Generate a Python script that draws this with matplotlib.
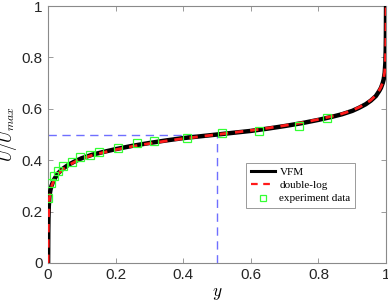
import matplotlib
matplotlib.use("Agg")
import matplotlib.pyplot as plt

# VFM curve
y_vfm = [0, 0.0005, 0.001, 0.002, 0.004, 0.007, 0.01, 0.015, 0.02, 0.03, 0.045, 0.06,
         0.08, 0.1, 0.13, 0.16, 0.2, 0.25, 0.3, 0.35, 0.4, 0.45, 0.5,
         0.55, 0.6, 0.65, 0.7, 0.75, 0.8, 0.84, 0.87, 0.9, 0.92, 0.94, 0.955, 0.97,
         0.98, 0.985, 0.99, 0.993, 0.996, 0.998, 0.999, 0.9995, 1.0]
u_vfm = [0, 0.12, 0.17, 0.22, 0.26, 0.285, 0.30, 0.318, 0.33, 0.35, 0.368, 0.382,
         0.396, 0.408, 0.421, 0.431, 0.443, 0.456, 0.467, 0.477, 0.486, 0.493, 0.5,
         0.507, 0.514, 0.523, 0.533, 0.544, 0.557, 0.569, 0.579, 0.592, 0.604, 0.618,
         0.632, 0.65, 0.67, 0.682, 0.70, 0.715, 0.74, 0.78, 0.83, 0.88, 1.0]

# double-log fit
y_dl = [0, 0.0005, 0.001, 0.002, 0.004, 0.007, 0.01, 0.015, 0.02, 0.03, 0.045, 0.06,
        0.08, 0.1, 0.13, 0.16, 0.2, 0.25, 0.3, 0.35, 0.4, 0.45, 0.5,
        0.55, 0.6, 0.65, 0.7, 0.75, 0.8, 0.84, 0.87, 0.9, 0.92, 0.94, 0.955, 0.97,
        0.98, 0.985, 0.99, 0.993, 0.996, 0.998, 0.999, 0.9995, 1.0]
u_dl = [0, 0.11, 0.16, 0.21, 0.255, 0.28, 0.297, 0.315, 0.327, 0.347, 0.366, 0.38,
        0.394, 0.406, 0.419, 0.429, 0.441, 0.454, 0.465, 0.475, 0.484, 0.492, 0.5,
        0.508, 0.516, 0.525, 0.535, 0.546, 0.559, 0.571, 0.581, 0.594, 0.606, 0.62,
        0.634, 0.653, 0.673, 0.685, 0.703, 0.72, 0.745, 0.79, 0.84, 0.89, 1.0]

# experiment data
y_exp = [0.001, 0.009, 0.018, 0.028, 0.043, 0.070, 0.095, 0.124, 0.152, 0.208,
         0.262, 0.312, 0.410, 0.516, 0.625, 0.741, 0.826]
u_exp = [0.252, 0.310, 0.339, 0.359, 0.379, 0.394, 0.411, 0.422, 0.432, 0.447,
         0.466, 0.475, 0.488, 0.505, 0.514, 0.533, 0.565]

# reference lines
ref_x = 0.5
ref_u = 0.5

ticks = [0, 0.2, 0.4, 0.6, 0.8, 1]
tick_labels = ["0", "0.2", "0.4", "0.6", "0.8", "1"]

plt.rcParams['mathtext.fontset'] = 'cm'
fig = plt.figure(figsize=(3.88, 3.05), dpi=100)
ax = fig.add_axes([0.124, 0.138, 0.871, 0.842])

ax.plot([0, ref_x], [ref_u, ref_u], color='#6f6fff', lw=1.0, dashes=(6, 4), zorder=1)
ax.plot([ref_x, ref_x], [0, ref_u], color='#6f6fff', lw=1.0, dashes=(6, 4), zorder=1)

ax.plot(y_vfm, u_vfm, color='black', lw=3.2, label='VFM', zorder=3)
ax.plot(y_dl, u_dl, color='#ff1a1a', lw=2.0, dashes=(3, 2.5), label='double-log', zorder=4)
ax.plot(y_exp, u_exp, linestyle='none', marker='s', markersize=5.2, mfc='none',
        mec='#33ff33', mew=0.9, label='experiment data', zorder=5)

ax.set_xlim(0, 1)
ax.set_ylim(0, 1)
ax.set_xticks(ticks)
ax.set_xticklabels(tick_labels)
ax.set_yticks(ticks)
ax.set_yticklabels(tick_labels)
ax.tick_params(direction='in', length=3.5, width=0.6, top=True, right=True,
               labelsize=11, colors='#262626', pad=4)
for lab in ax.get_xticklabels() + ax.get_yticklabels():
    lab.set_fontfamily('Liberation Sans')
for s in ax.spines.values():
    s.set_color('#8a8a8a')
    s.set_linewidth(0.8)
ax.tick_params(color='#8a8a8a')

ax.set_xlabel('$y$', fontsize=12.5, labelpad=1)
ax.set_ylabel('$U/U_{max}$', fontsize=12, labelpad=2)

leg = ax.legend(loc='upper left', bbox_to_anchor=(0.586, 0.389),
                prop={'family': 'Liberation Serif', 'size': 8},
                fancybox=False, edgecolor='#8a8a8a', framealpha=1,
                handlelength=2.2, handletextpad=0.4, borderpad=0.4,
                labelspacing=0.3, borderaxespad=0)
leg.get_frame().set_linewidth(0.6)
leg.legend_handles[2].set_markersize(4.5)
leg.legend_handles[0].set_linewidth(2.2)
leg.legend_handles[1].set_linewidth(1.6)

fig.savefig('out.png', dpi=100)
